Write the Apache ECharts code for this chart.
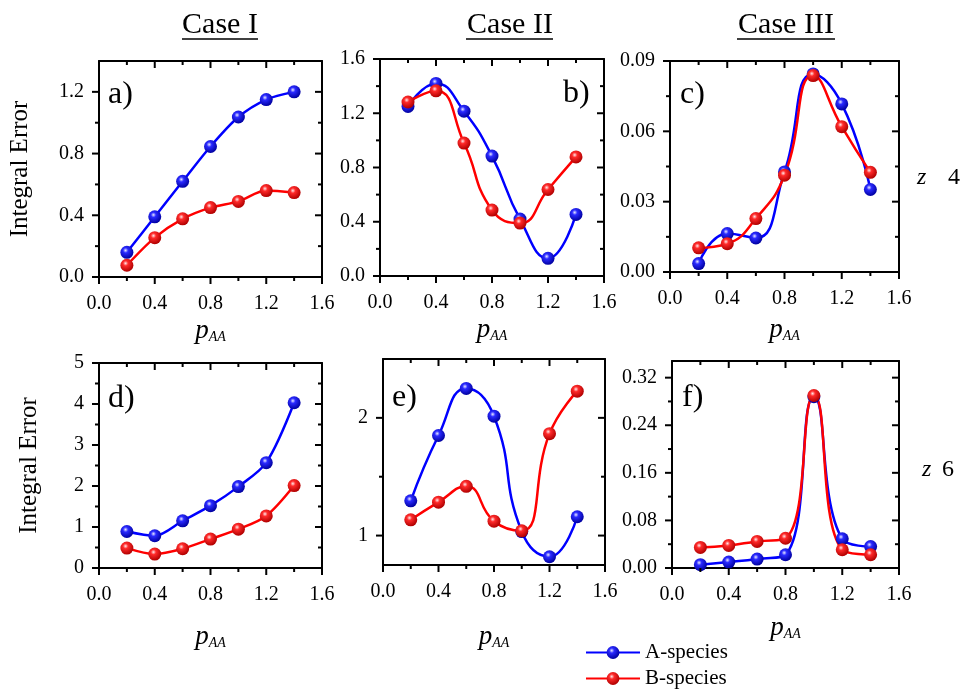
<!DOCTYPE html>
<html>
<head>
<meta charset="utf-8">
<script src="https://cdn.jsdelivr.net/npm/echarts@6/dist/echarts.min.js"></script>
<style>
html,body{margin:0;padding:0;background:#fff;}
#chart{width:968px;height:690px;}
</style>
</head>
<body>
<div id="chart"></div>
<script>
// ---------------- DATA ----------------
const pAA = [0.2, 0.4, 0.6, 0.8, 1.0, 1.2, 1.4];

const aSpecies_a = [0.16, 0.39, 0.62, 0.846, 1.037, 1.15, 1.2];
const bSpecies_a = [0.076, 0.255, 0.377, 0.45, 0.49, 0.56, 0.547];
const aSpecies_b = [1.25, 1.42, 1.215, 0.884, 0.42, 0.13, 0.454];
const bSpecies_b = [1.283, 1.365, 0.98, 0.486, 0.39, 0.638, 0.878];
const aSpecies_c = [0.0036, 0.0164, 0.0145, 0.0427, 0.0845, 0.0717, 0.0352];
const bSpecies_c = [0.0103, 0.0121, 0.0228, 0.0413, 0.0838, 0.062, 0.0425];
const aSpecies_d = [0.89, 0.786, 1.15, 1.52, 1.985, 2.57, 4.03];
const bSpecies_d = [0.486, 0.34, 0.47, 0.705, 0.948, 1.27, 2.01];
const aSpecies_e = [1.295, 1.85, 2.25, 2.014, 1.034, 0.82, 1.16];
const bSpecies_e = [1.134, 1.284, 1.418, 1.122, 1.04, 1.866, 2.227];
const aSpecies_f = [0.0056, 0.010, 0.015, 0.0223, 0.288, 0.049, 0.036];
const bSpecies_f = [0.0346, 0.038, 0.0447, 0.050, 0.290, 0.0307, 0.0223];

// tick values and tick labels
const xMajor = [0, 0.4, 0.8, 1.2, 1.6];
const xMinor = [0.2, 0.6, 1.0, 1.4];
const xLabels = ['0.0', '0.4', '0.8', '1.2', '1.6'];

const yMajor_a = [0, 0.4, 0.8, 1.2];
const yMinor_a = [0.2, 0.6, 1.0];
const yLabels_a = ['0.0', '0.4', '0.8', '1.2'];
const yMajor_b = [0, 0.4, 0.8, 1.2, 1.6];
const yMinor_b = [0.2, 0.6, 1.0, 1.4];
const yLabels_b = ['0.0', '0.4', '0.8', '1.2', '1.6'];
const yMajor_c = [0, 0.03, 0.06, 0.09];
const yMinor_c = [0.015, 0.045, 0.075];
const yLabels_c = ['0.00', '0.03', '0.06', '0.09'];
const yMajor_d = [0, 1, 2, 3, 4, 5];
const yMinor_d = [0.5, 1.5, 2.5, 3.5, 4.5];
const yLabels_d = ['0', '1', '2', '3', '4', '5'];
const yMajor_e = [1, 2];
const yMinor_e = [1.5];
const yLabels_e = ['1', '2'];
const yMajor_f = [0, 0.08, 0.16, 0.24, 0.32];
const yMinor_f = [0.04, 0.12, 0.2, 0.28];
const yLabels_f = ['0.00', '0.08', '0.16', '0.24', '0.32'];

const caseTitles = ['Case I', 'Case II', 'Case III'];
const panelTags = ['a)', 'b)', 'c)', 'd)', 'e)', 'f)'];
const seriesNames = ['A-species', 'B-species'];
const yAxisTitle = 'Integral Error';

// ---------------- LAYOUT / STYLE ----------------
const SERIF = '"Liberation Serif", "Times New Roman", serif';
const panels = [
  {box:[99, 61, 223, 216],  yr:[0, 1.4],    yMaj:yMajor_a, yMin:yMinor_a, yLab:yLabels_a, A:aSpecies_a, B:bSpecies_a, smooth:0.3, yName:yAxisTitle, yNameGap:66, xNameGap:37, tag:[108, 95]},
  {box:[380, 59, 224, 217], yr:[0, 1.6],    yMaj:yMajor_b, yMin:yMinor_b, yLab:yLabels_b, A:aSpecies_b, B:bSpecies_b, smooth:0.5, yName:'', yNameGap:0, xNameGap:37, tag:[563, 94]},
  {box:[670, 61, 229, 211], yr:[0, 0.09],   yMaj:yMajor_c, yMin:yMinor_c, yLab:yLabels_c, A:aSpecies_c, B:bSpecies_c, smooth:0.5, yName:'', yNameGap:0, xNameGap:41, tag:[680, 95]},
  {box:[99, 363, 223, 205], yr:[0, 5],      yMaj:yMajor_d, yMin:yMinor_d, yLab:yLabels_d, A:aSpecies_d, B:bSpecies_d, smooth:0.3, yName:yAxisTitle, yNameGap:57, xNameGap:52, tag:[108, 399]},
  {box:[383, 359, 222, 206], yr:[0.75, 2.5], yMaj:yMajor_e, yMin:yMinor_e, yLab:yLabels_e, A:aSpecies_e, B:bSpecies_e, smooth:0.5, yName:'', yNameGap:0, xNameGap:55, tag:[392, 398]},
  {box:[672, 361, 227, 207], yr:[0, 0.348], yMaj:yMajor_f, yMin:yMinor_f, yLab:yLabels_f, A:aSpecies_f, B:bSpecies_f, smooth:0.5, yName:'', yNameGap:0, xNameGap:43, tag:[682, 398]}
];
const MAJOR_LEN = 7, MINOR_LEN = 4;

function ball(base, light, dark) {
  return {type:'radial', x:0.4, y:0.35, r:0.65, colorStops:[
    {offset:0, color:light}, {offset:0.3, color:base}, {offset:1, color:dark}]};
}
const colA = '#0000ff', colB = '#ff0000';
const ballA = ball('#2a2aff', '#e8e8ff', '#0000a0');
const ballB = ball('#ff2a2a', '#ffe8e8', '#b00000');

function labelFor(vals, labels) {
  return function (v) {
    const i = vals.findIndex(m => Math.abs(m - v) < 1e-7);
    return i >= 0 ? labels[i] : '';
  };
}
function ls() { return {color:'#000', width:2}; }

const grids = [], xAxes = [], yAxes = [], series = [], graphics = [];
const pName = '{p|p}{s|AA}';
function pRich() {
  return {
    p:{fontFamily:SERIF, fontStyle:'italic', fontSize:27, color:'#000', lineHeight:30, verticalAlign:'bottom'},
    s:{fontFamily:SERIF, fontStyle:'italic', fontSize:14, color:'#000', lineHeight:12, verticalAlign:'bottom'}
  };
}

function makeAxis(gi, pos, min, max, labelVals, labelTexts, margin) {
  const ax = {
    type:'value', gridIndex:gi, position:pos, min:min, max:max,
    splitLine:{show:false},
    axisLine:{show:true, onZero:false, lineStyle:ls()},
    axisTick:{show:false}, minorTick:{show:false},
    axisLabel:{show:false}
  };
  if (labelVals) {
    ax.axisLabel = {show:true, customValues:labelVals, formatter:labelFor(labelVals, labelTexts),
      color:'#000', fontFamily:SERIF, fontSize:20, margin:margin};
  }
  return ax;
}

const axisRefs = [];
panels.forEach((P, gi) => {
  grids.push({left:P.box[0], top:P.box[1], width:P.box[2], height:P.box[3], containLabel:false});
  const xMain = xAxes.length;
  const xb = makeAxis(gi, 'bottom', 0, 1.6, xMajor, xLabels, 17);
  xb.name = pName; xb.nameLocation = 'middle'; xb.nameGap = P.xNameGap; xb.nameTextStyle = {rich:pRich()};
  xAxes.push(xb);
  xAxes.push(makeAxis(gi, 'top', 0, 1.6, null, null, 0));

  const yMain = yAxes.length;
  const yl = makeAxis(gi, 'left', P.yr[0], P.yr[1], P.yMaj, P.yLab, 15);
  yl.name = P.yName; yl.nameLocation = 'middle'; yl.nameGap = P.yNameGap;
  yl.nameTextStyle = {fontFamily:SERIF, fontSize:25, color:'#000'};
  yAxes.push(yl);
  yAxes.push(makeAxis(gi, 'right', P.yr[0], P.yr[1], null, null, 0));
  axisRefs.push({x:xMain, y:yMain});

  [[P.A, colA, ballA, seriesNames[0]], [P.B, colB, ballB, seriesNames[1]]].forEach(([vals, c, b, nm]) => {
    series.push({
      type:'line', name:nm, xAxisIndex:xMain, yAxisIndex:yMain,
      data:pAA.map((x, i) => [x, vals[i]]),
      smooth:P.smooth, symbol:'circle', symbolSize:13, showSymbol:true,
      lineStyle:{color:c, width:2.5}, itemStyle:{color:b},
      emphasis:{disabled:true}, animation:false, clip:true
    });
  });

  graphics.push({type:'text', x:P.tag[0], y:P.tag[1], style:{text:panelTags[gi], font:'32px ' + SERIF, fill:'#000', align:'left', verticalAlign:'middle'}});
});

// case titles with underline
const titlePos = [[220, 182, 258], [510, 466, 553], [786, 737, 835]];
caseTitles.forEach((t, i) => {
  graphics.push({type:'text', x:titlePos[i][0], y:25, style:{text:t, font:'30px ' + SERIF, fill:'#000', align:'center', verticalAlign:'middle'}});
  graphics.push({type:'line', shape:{x1:titlePos[i][1], y1:39, x2:titlePos[i][2], y2:39}, style:{stroke:'#000', lineWidth:1.5}});
});
// z labels
[[917, 948, 178, '4'], [922, 942, 470, '6']].forEach(z => {
  graphics.push({type:'text', x:z[0], y:z[2], style:{text:'z', font:'italic 24px ' + SERIF, fill:'#000', align:'left', verticalAlign:'middle'}});
  graphics.push({type:'text', x:z[1], y:z[2], style:{text:z[3], font:'24px ' + SERIF, fill:'#000', align:'left', verticalAlign:'middle'}});
});

const chart = echarts.init(document.getElementById('chart'), null, {renderer:'canvas'});
const legendBase = {orient:'vertical', itemWidth:54, itemHeight:16, padding:0,
  textStyle:{fontFamily:SERIF, fontSize:21, color:'#000'}, selectedMode:false};
chart.setOption({
  animation:false,
  backgroundColor:'#fff',
  grid:grids, xAxis:xAxes, yAxis:yAxes, series:series,
  legend:[
    Object.assign({}, legendBase, {data:[seriesNames[0]], left:585, top:642}),
    Object.assign({}, legendBase, {data:[seriesNames[1]], left:585, top:668})
  ],
  graphic:graphics
});

// ---- ticks: positioned through the library's own axis scales ----
const tickLines = [];
function tick(x1, y1, x2, y2) {
  tickLines.push({type:'line', silent:true, z:10, shape:{x1:x1, y1:y1, x2:x2, y2:y2}, style:{stroke:'#000', lineWidth:2, lineCap:'butt'}});
}
panels.forEach((P, gi) => {
  const ref = axisRefs[gi];
  const px = v => chart.convertToPixel({xAxisIndex:ref.x}, v);
  const py = v => chart.convertToPixel({yAxisIndex:ref.y}, v);
  const xl = px(0), xr = px(1.6), yb = py(P.yr[0]), yt = py(P.yr[1]);
  [[xMajor, MAJOR_LEN], [xMinor, MINOR_LEN]].forEach(([vals, len]) => {
    vals.forEach(v => {
      const x = px(v);
      tick(x, yb, x, yb + len);   // bottom, outward
      tick(x, yt, x, yt + len);   // top, inward
    });
  });
  [[P.yMaj, MAJOR_LEN], [P.yMin, MINOR_LEN]].forEach(([vals, len]) => {
    vals.forEach(v => {
      const y = py(v);
      tick(xl - len, y, xl, y);   // left, outward
      tick(xr - len, y, xr, y);   // right, inward
    });
  });
});
chart.setOption({graphic:graphics.concat(tickLines)});
</script>
</body>
</html>
